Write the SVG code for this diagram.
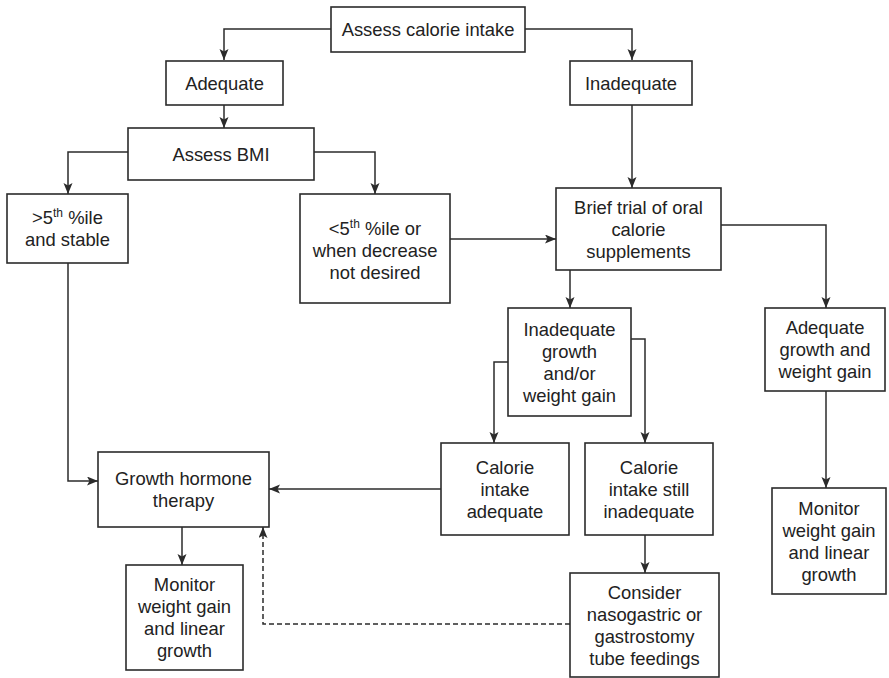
<svg xmlns="http://www.w3.org/2000/svg" width="889" height="678" viewBox="0 0 889 678">
<style>
rect{fill:#fff;stroke:#2b2b2b;stroke-width:1.6}
text{font-family:"Liberation Sans",Arial,sans-serif;font-size:18.4px;fill:#222;text-anchor:middle}
.s{font-size:12px}
.c{fill:none;stroke:#2b2b2b;stroke-width:1.5}
.d{stroke-dasharray:5,3}
</style>
<defs>
<marker id="a" markerWidth="12" markerHeight="10" refX="11" refY="4.5" orient="auto" markerUnits="userSpaceOnUse">
<path d="M0,0 L11,4.5 L0,9 L2.5,4.5 Z" fill="#2b2b2b"/>
</marker>
</defs>
<g id="connectors">
<path class="c" d="M331,29 H224 V60" marker-end="url(#a)"/>
<path class="c" d="M525,29 H632 V60" marker-end="url(#a)"/>
<path class="c" d="M224,105 V128" marker-end="url(#a)"/>
<path class="c" d="M632,105 V188" marker-end="url(#a)"/>
<path class="c" d="M128,152 H68 V194" marker-end="url(#a)"/>
<path class="c" d="M314,152 H375 V194" marker-end="url(#a)"/>
<path class="c" d="M450,239 H556" marker-end="url(#a)"/>
<path class="c" d="M68,263 V481 H98" marker-end="url(#a)"/>
<path class="c" d="M721,225 H826 V308" marker-end="url(#a)"/>
<path class="c" d="M570,270 V308" marker-end="url(#a)"/>
<path class="c" d="M508,362 H494 V443" marker-end="url(#a)"/>
<path class="c" d="M631,339 H645 V443" marker-end="url(#a)"/>
<path class="c" d="M645,535 V573" marker-end="url(#a)"/>
<path class="c" d="M441,489 H269" marker-end="url(#a)"/>
<path class="c" d="M182,527 V565" marker-end="url(#a)"/>
<path class="c" d="M826,391 V488" marker-end="url(#a)"/>
<path class="c d" d="M570,624 H263 V527" marker-end="url(#a)"/>
</g>
<g id="assess-calorie"><rect x="331" y="7" width="194" height="45"/><text x="428" y="36">Assess calorie intake</text></g>
<g id="adequate"><rect x="166" y="61" width="117" height="44"/><text x="224.5" y="90">Adequate</text></g>
<g id="inadequate"><rect x="570" y="61" width="122" height="44"/><text x="631" y="90">Inadequate</text></g>
<g id="assess-bmi"><rect x="128" y="128" width="186" height="52"/><text x="221" y="161">Assess BMI</text></g>
<g id="above5"><rect x="7" y="194" width="121" height="69"/><text x="67.5" y="224">&gt;5<tspan class="s" dy="-7">th</tspan><tspan dy="7"> %ile</tspan></text><text x="67.5" y="246">and stable</text></g>
<g id="below5"><rect x="300" y="194" width="150" height="109"/><text x="375" y="235">&lt;5<tspan class="s" dy="-7">th</tspan><tspan dy="7"> %ile or</tspan></text><text x="375" y="257">when decrease</text><text x="375" y="279">not desired</text></g>
<g id="brief-trial"><rect x="556" y="188" width="165" height="82"/><text x="638.5" y="214">Brief trial of oral</text><text x="638.5" y="236">calorie</text><text x="638.5" y="258">supplements</text></g>
<g id="inadequate-growth"><rect x="508" y="308" width="123" height="108"/><text x="569.5" y="336">Inadequate</text><text x="569.5" y="358">growth</text><text x="569.5" y="380">and/or</text><text x="569.5" y="402">weight gain</text></g>
<g id="adequate-growth"><rect x="765" y="308" width="120" height="83"/><text x="825" y="334">Adequate</text><text x="825" y="356">growth and</text><text x="825" y="378">weight gain</text></g>
<g id="calorie-adequate"><rect x="441" y="443" width="128" height="92"/><text x="505" y="474">Calorie</text><text x="505" y="496">intake</text><text x="505" y="518">adequate</text></g>
<g id="calorie-still"><rect x="585" y="443" width="128" height="92"/><text x="649" y="474">Calorie</text><text x="649" y="496">intake still</text><text x="649" y="518">inadequate</text></g>
<g id="gh-therapy"><rect x="98" y="452" width="171" height="75"/><text x="183.5" y="485">Growth hormone</text><text x="183.5" y="507">therapy</text></g>
<g id="monitor-left"><rect x="126" y="565" width="117" height="105"/><text x="184.5" y="591">Monitor</text><text x="184.5" y="613">weight gain</text><text x="184.5" y="635">and linear</text><text x="184.5" y="657">growth</text></g>
<g id="consider"><rect x="570" y="573" width="149" height="104"/><text x="644.5" y="599">Consider</text><text x="644.5" y="621">nasogastric or</text><text x="644.5" y="643">gastrostomy</text><text x="644.5" y="665">tube feedings</text></g>
<g id="monitor-right"><rect x="772" y="488" width="114" height="106"/><text x="829" y="515">Monitor</text><text x="829" y="537">weight gain</text><text x="829" y="559">and linear</text><text x="829" y="581">growth</text></g>
</svg>
